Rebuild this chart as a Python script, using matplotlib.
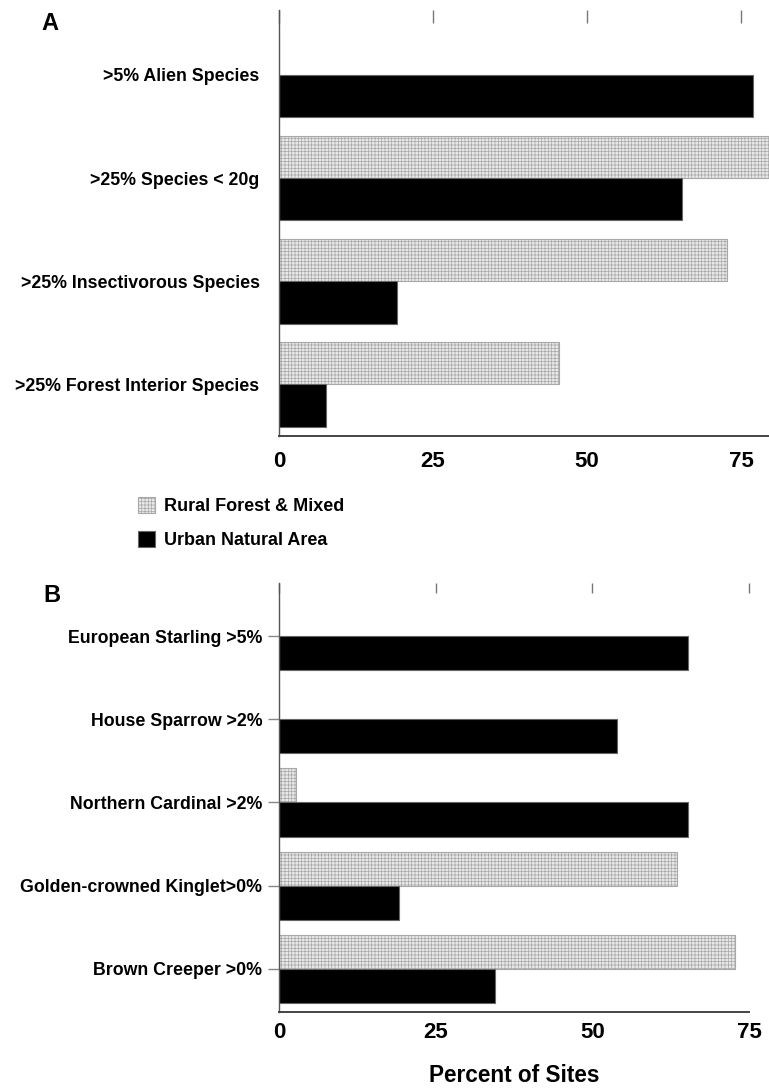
import numpy as np
import matplotlib.pyplot as plt
from matplotlib.patches import Patch

plt.rcParams['font.family'] = ['Liberation Sans', 'DejaVu Sans']
plt.rcParams['font.weight'] = 'bold'
plt.rcParams['hatch.linewidth'] = 0.5

# panel A: community-level thresholds
a_labels = ['>5% Alien Species', '>25% Species < 20g',
            '>25% Insectivorous Species', '>25% Forest Interior Species']
a_rural = [0, 80.5, 72.7, 45.5]
a_urban = [76.9, 65.4, 19.2, 7.7]

# panel B: individual species thresholds
b_labels = ['European Starling >5%', 'House Sparrow >2%', 'Northern Cardinal >2%',
            'Golden-crowned Kinglet>0%', 'Brown Creeper >0%']
b_rural = [0, 0, 2.7, 63.5, 72.7]
b_urban = [65.3, 54.0, 65.3, 19.2, 34.4]

xticks = [0, 25, 50, 75]
legend_names = ['Rural Forest & Mixed', 'Urban Natural Area']

rural_style = dict(facecolor='#e8e8e8', edgecolor='#a8a8a8', hatch='+++++', linewidth=0.8)
urban_style = dict(facecolor='black', edgecolor='#666666', linewidth=0.8)
bar_h = 0.41

W, H = 769, 1088
fig = plt.figure(figsize=(W / 100, H / 100), dpi=100)

axA = fig.add_axes([279 / W, 1 - 436 / H, 1 - 279 / W, 426 / H])
axB = fig.add_axes([279 / W, 1 - 1012 / H, 470 / W, 429 / H])


def draw_panel(ax, labels, rural, urban, xmax, ytop, ybot):
    pos = np.arange(len(labels))
    ax.barh(pos - bar_h / 2, rural, height=bar_h, **rural_style)
    ax.barh(pos + bar_h / 2, urban, height=bar_h, **urban_style)
    ax.set_xlim(0, xmax)
    ax.set_ylim(ybot, ytop)
    ax.set_yticks(pos)
    ax.set_yticklabels(labels, fontsize=12.8, fontweight='bold')
    ax.set_xticks(xticks)
    ax.set_xticklabels([str(t) for t in xticks], fontsize=16, fontweight='bold')
    for s in ['top', 'right']:
        ax.spines[s].set_visible(False)
    ax.spines['left'].set_color('#555555')
    ax.spines['bottom'].set_color('#444444')
    ax.spines['left'].set_linewidth(1.0)
    ax.spines['bottom'].set_linewidth(1.4)
    ax.tick_params(axis='x', bottom=False, top=True, direction='in',
                   color='#777777', width=1.0)
    return pos


draw_panel(axA, a_labels, a_rural, a_urban, 79.5, -0.63, 3.50)
axA.tick_params(axis='x', length=9.5, pad=11)
axA.tick_params(axis='y', length=0, pad=14)

draw_panel(axB, b_labels, b_rural, b_urban, 75, -0.64, 4.52)
axB.tick_params(axis='x', length=7.5, pad=7)
axB.tick_params(axis='y', length=8, pad=4, color='#888888', width=1.0)
axB.xaxis.get_major_ticks()[1].tick2line.set_color('#e6e6e6')
axB.set_xlabel('Percent of Sites', fontsize=16.3, fontweight='bold', labelpad=15)

fig.text(41 / W, 1 - 30 / H, 'A', fontsize=17, fontweight='bold')
fig.text(43 / W, 1 - 602 / H, 'B', fontsize=17, fontweight='bold')

handles = [Patch(**rural_style), Patch(**urban_style)]
fig.legend(handles, legend_names, loc='upper left',
           bbox_to_anchor=(131 / W, 1 - 490 / H), frameon=False,
           prop=dict(size=13, weight='bold'), handlelength=0.95, handleheight=0.95,
           handletextpad=0.5, labelspacing=0.9, borderaxespad=0)

fig.savefig('out.png', dpi=100)
